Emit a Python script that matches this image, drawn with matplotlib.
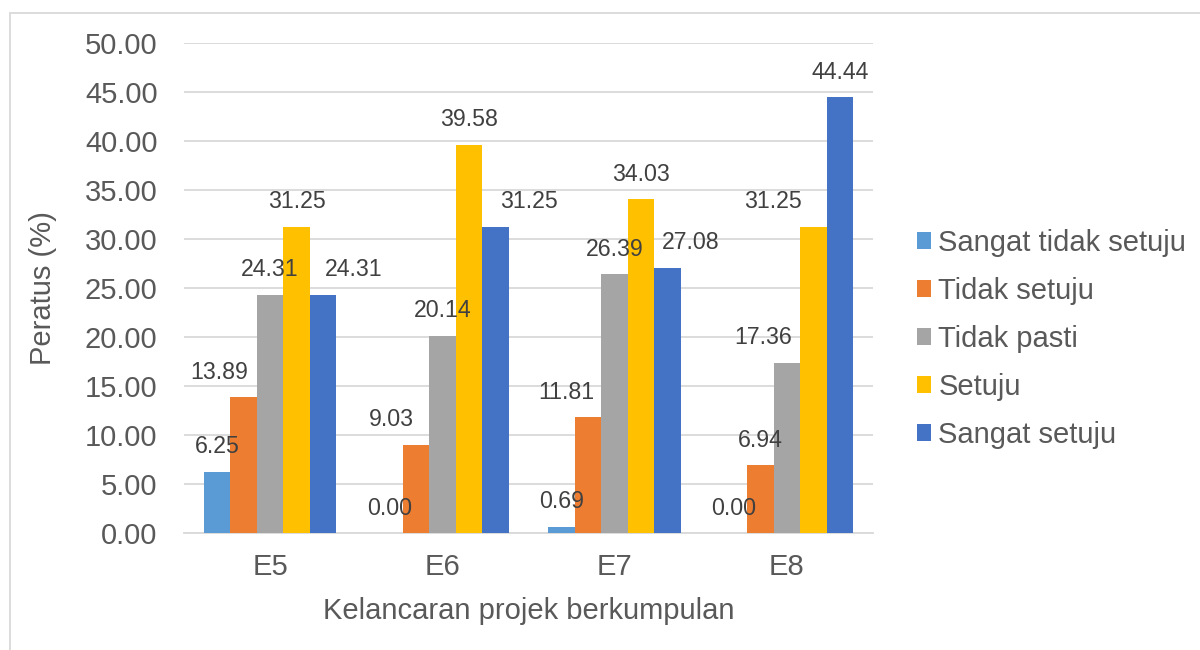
import numpy as np
import matplotlib.pyplot as plt
from matplotlib.patches import Rectangle

plt.rcParams['font.family'] = ['Liberation Sans', 'DejaVu Sans']

categories = ['E5', 'E6', 'E7', 'E8']
series = ['Sangat tidak setuju', 'Tidak setuju', 'Tidak pasti', 'Setuju', 'Sangat setuju']
values = [
    [6.25, 0.00, 0.69, 0.00],
    [13.89, 9.03, 11.81, 6.94],
    [24.31, 20.14, 26.39, 17.36],
    [31.25, 39.58, 34.03, 31.25],
    [24.31, 31.25, 27.08, 44.44],
]
colors = ['#5B9BD5', '#ED7D31', '#A5A5A5', '#FFC000', '#4472C4']

# horizontal nudge of some data labels (pixels), as placed in the original
label_dx = [
    [0, 0, 0, 0],
    [-24, -25, -22, 0],
    [0, 0, 0, -24],
    [0, 0, 0, -40],
    [31, 34, 23, 0],
]

fig = plt.figure(figsize=(12, 6.5), dpi=100)
fig.add_artist(Rectangle((10 / 1200, -0.1), 1.2, (650 - 13) / 650 + 0.1,
                         transform=fig.transFigure, fill=False,
                         edgecolor='#D9D9D9', linewidth=1.3))
ax = fig.add_axes([184 / 1200, (650 - 533.3) / 650, (873 - 184) / 1200, 490.6 / 650])

x = np.arange(len(categories))
w = 0.1536
for i, (name, vals, c) in enumerate(zip(series, values, colors)):
    xs = x + (i - 2) * w
    ax.bar(xs, vals, width=w, color=c, label=name, zorder=3)
    for j, v in enumerate(vals):
        ax.annotate(f'{v:.2f}', (xs[j], v), xytext=(label_dx[i][j] * 0.72, 18),
                    textcoords='offset points', ha='center', va='center',
                    fontsize=16.7, color='#404040', zorder=4)

ax.set_xlim(-0.5, 3.5)
ax.set_ylim(0, 50)
ax.set_yticks(np.arange(0, 50.1, 5))
ax.set_yticklabels([f'{t:.2f}' for t in np.arange(0, 50.1, 5)])
ax.set_xticks(x)
ax.set_xticklabels(categories)
ax.tick_params(length=0, labelsize=21, labelcolor='#595959')
ax.tick_params(axis='y', pad=19)
ax.tick_params(axis='x', pad=14)
ax.grid(axis='y', color='#D9D9D9', linewidth=1.3, zorder=0)
for s in ['top', 'right', 'left']:
    ax.spines[s].set_visible(False)
ax.spines['bottom'].set_color('#D9D9D9')
ax.spines['bottom'].set_linewidth(1.3)

ax.set_xlabel('Kelancaran projek berkumpulan', fontsize=21, color='#595959', labelpad=12)
ax.set_ylabel('Peratus (%)', fontsize=21, color='#595959', labelpad=20)

ax.legend(loc='upper left', bbox_to_anchor=(902 / 1200, (650 - 214) / 650),
          bbox_transform=fig.transFigure, frameon=False, fontsize=21,
          handlelength=0.5, handleheight=0.5, handletextpad=0.25,
          labelspacing=0.69, borderpad=0, labelcolor='#595959')

fig.savefig('out.png', dpi=100)
